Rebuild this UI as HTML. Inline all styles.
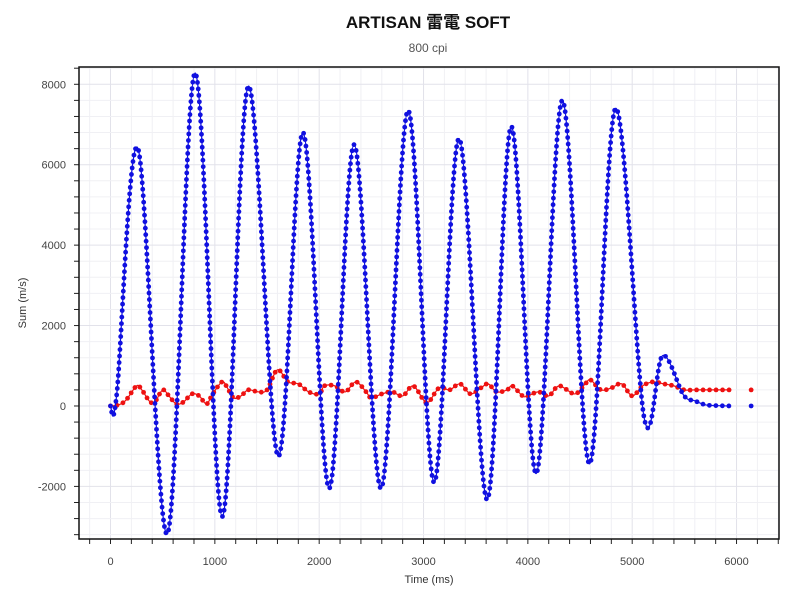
<!DOCTYPE html>
<html><head><meta charset="utf-8"><style>
body{margin:0;background:#fff;}
svg{font-family:"Liberation Sans","Noto Sans CJK JP",sans-serif;}
</style></head><body>
<svg id="chart" width="800" height="600" xmlns="http://www.w3.org/2000/svg">
<text x="428" y="28" text-anchor="middle" font-size="17" font-weight="bold" fill="#111">ARTISAN 雷電 SOFT</text>
<text x="428" y="52" text-anchor="middle" font-size="12" fill="#555">800 cpi</text>
<text transform="translate(26,303) rotate(-90)" text-anchor="middle" font-size="11" fill="#333">Sum (m/s)</text>
<text x="429" y="583" text-anchor="middle" font-size="11" fill="#333">Time (ms)</text>
<g id="grid"></g>
<g id="axes"></g>
<g id="series"></g>
</svg>
<script>
const blueT=[0,60,264,545,810,1070,1320,1606,1846,2095,2335,2594,2852,3100,3341,3610,3840,4080,4330,4590,4840,5115,5290,5490,5600,5700,5800,5940];
const blueV=[0,300,6400,-3180,8280,-2750,7950,-1250,6800,-2050,6500,-2050,7350,-1900,6650,-2330,6950,-1680,7600,-1440,7400,-300,1250,280,130,30,10,0];
const blueLoneT=[6140];const blueLoneV=[0];
const redT=[0,80,150,250,300,380,430,500,560,630,700,780,850,920,980,1070,1120,1180,1250,1320,1420,1500,1600,1700,1800,1900,2000,2050,2150,2250,2350,2450,2500,2600,2700,2800,2900,3000,3050,3150,3250,3350,3450,3550,3620,3700,3800,3850,3950,4000,4100,4200,4300,4450,4550,4600,4700,4800,4900,5000,5100,5200,5300,5400,5500,5600,5700,5800,5940];
const redV=[0,30,150,500,400,100,120,400,250,50,100,300,250,50,300,600,450,200,250,400,350,400,900,600,550,350,300,500,500,350,600,350,200,300,350,250,500,150,100,450,400,550,300,450,550,350,400,500,250,250,350,250,500,300,550,650,400,450,550,250,500,600,550,500,400,400,400,400,400];
const redLoneT=[6140];const redLoneV=[400];
const xTicks=[0,1000,2000,3000,4000,5000,6000];
const yTicks=[-2000,0,2000,4000,6000,8000];
const L=79,R=779,T=67,B=539,xMin=-302,xMax=6407,yMin=-3308,yMax=8430;
const X=v=>L+(v-xMin)/(xMax-xMin)*(R-L);
const Y=v=>B-(v-yMin)/(yMax-yMin)*(B-T);
const NS="http://www.w3.org/2000/svg";
function mk(tag,attrs,parent){const e=document.createElementNS(NS,tag);for(const k in attrs)e.setAttribute(k,attrs[k]);parent.appendChild(e);return e;}
const grid=document.getElementById('grid'),axes=document.getElementById('axes'),series=document.getElementById('series');
mk('rect',{x:L,y:T,width:R-L,height:B-T,fill:'#fff'},grid);
for(let v=-200;v<=6400;v+=200){const gl=mk('line',{x1:X(v),x2:X(v),y1:T,y2:B,stroke:v%1000===0?'#e2e2ea':'#f0f0f4','stroke-width':1},grid);

const tk=mk('line',{x1:X(v),x2:X(v),y1:B,y2:B+5,stroke:'#222'},axes);
}
for(let v=-3200;v<=8400;v+=400){const gl=mk('line',{x1:L,x2:R,y1:Y(v),y2:Y(v),stroke:v%2000===0?'#e2e2ea':'#f0f0f4','stroke-width':1},grid);

const tk=mk('line',{x1:L-5,x2:L,y1:Y(v),y2:Y(v),stroke:'#222'},axes);
}
const fr=mk('path',{d:`M${L},${T}H${R}V${B}H${L}Z`,fill:'none',stroke:'#111','stroke-width':1.5},axes);

xTicks.forEach(v=>{const t=mk('text',{x:X(v),y:B+26,'text-anchor':'middle','font-size':11,fill:'#444'},axes);t.textContent=v;
});
yTicks.forEach(v=>{const t=mk('text',{x:L-13,y:Y(v)+4,'text-anchor':'end','font-size':11,fill:'#444'},axes);t.textContent=v;
});
function smooth(ts,vs){const p=ts.map((t,i)=>[X(t),Y(vs[i])]);let d=`M${p[0][0]},${p[0][1]}`;
for(let i=0;i<p.length-1;i++){const p0=p[Math.max(0,i-1)],p1=p[i],p2=p[i+1],p3=p[Math.min(p.length-1,i+2)];
d+=`C${p1[0]+(p2[0]-p0[0])/6},${p1[1]+(p2[1]-p0[1])/6} ${p2[0]-(p3[0]-p1[0])/6},${p2[1]-(p3[1]-p1[1])/6} ${p2[0]},${p2[1]}`;}return d;}
function draw(ts,vs,lt,lv,col,name){
const path=mk('path',{d:smooth(ts,vs),fill:'none',stroke:col,'stroke-width':1.2},series);

const len=path.getTotalLength();for(let s=0;s<=len;s+=6.5){const pt=path.getPointAtLength(s);
const c=mk('circle',{cx:pt.x,cy:pt.y,r:2.4,fill:col},series);}
lt.forEach((t,i)=>{const c=mk('circle',{cx:X(t),cy:Y(lv[i]),r:2.4,fill:col},series);});}
draw(redT,redV,redLoneT,redLoneV,'#ee1111','red-series');
draw(blueT,blueV,blueLoneT,blueLoneV,'#1010e0','blue-series');
</script>
</body></html>
